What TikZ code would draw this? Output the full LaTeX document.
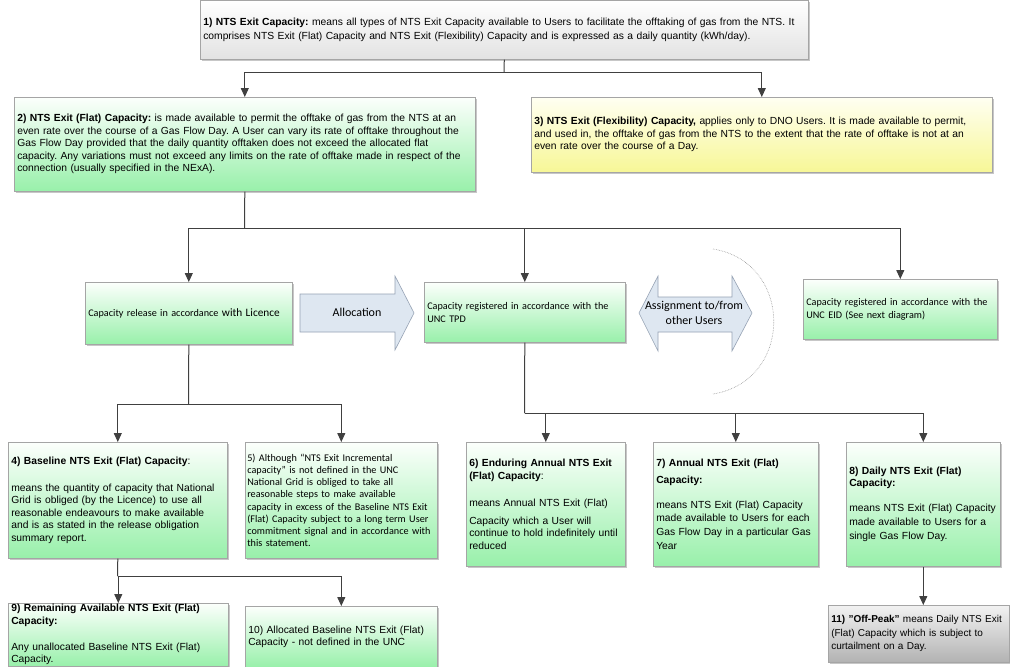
\documentclass[tikz,border=0pt]{standalone}
\usepackage{fontspec}
\setmainfont{Liberation Sans}
\newfontfamily\calfont{Carlito}
\usetikzlibrary{arrows.meta,shadows}
\frenchspacing
\definecolor{gbot}{RGB}{152,240,170}
\definecolor{gtop}{RGB}{252,255,252}
\definecolor{bord}{RGB}{165,165,165}
\definecolor{lncol}{RGB}{64,64,64}
\definecolor{ybot}{RGB}{247,247,150}
\definecolor{ytop}{RGB}{255,255,242}
\definecolor{graybot}{RGB}{226,226,226}
\definecolor{darkgraybot}{RGB}{178,178,178}
\definecolor{arrfill}{RGB}{222,231,241}
\definecolor{arrbord}{RGB}{150,162,180}
\tikzset{
  box/.style={draw=bord, line width=0.6pt, rectangle, anchor=north west,
    inner xsep=3pt, inner ysep=0pt, align=left,
    drop shadow={shadow xshift=1.5pt, shadow yshift=-1.5pt, opacity=0.22, fill=black},
    font=\frenchspacing\fontsize{10.3}{12.5}\selectfont},
  greenbox/.style={box, top color=gtop, bottom color=gbot},
  calbox/.style={greenbox, font=\frenchspacing\calfont\fontsize{10.2}{12.8}\selectfont},
  conn/.style={draw=lncol, line width=1pt},
  arr/.style={conn, -{Triangle[length=9pt,width=8pt]}},
  bigarrow/.style={draw=arrbord, line width=0.6pt, fill=arrfill},
  arrlabel/.style={align=center, font=\calfont\fontsize{12}{15.5}\selectfont, inner sep=0pt}
}
\begin{document}
\begin{tikzpicture}[x=1pt,y=-1pt]
\useasboundingbox[fill=white] (0,0) rectangle (1010,667);

% level 1
\node[box, top color=white, bottom color=graybot, minimum width=608pt, minimum height=59pt,
  text width=602pt, font=\frenchspacing\fontsize{10.3}{14}\selectfont] (b1) at (200,0)
  {\textbf{1) NTS Exit Capacity:} means all types of NTS Exit Capacity available to Users to facilitate the offtaking of gas from the NTS. It\\
   comprises NTS Exit (Flat) Capacity and NTS Exit (Flexibility) Capacity and is expressed as a daily quantity (kWh/day).};

% level 2
\node[greenbox, minimum width=461pt, minimum height=94pt, text width=455pt] (b2) at (14,97)
  {\textbf{2) NTS Exit (Flat) Capacity:} is made available to permit the offtake of gas from the NTS at an\\
   even rate over the course of a Gas Flow Day. A User can vary its rate of offtake throughout the\\
   Gas Flow Day provided that the daily quantity offtaken does not exceed the allocated flat\\
   capacity. Any variations must not exceed any limits on the rate of offtake made in respect of the\\
   connection (usually specified in the NExA).};

\node[box, top color=ytop, bottom color=ybot, minimum width=461pt, minimum height=75pt, text width=455pt] (b3) at (531,97)
  {\textbf{3) NTS Exit (Flexibility) Capacity,} applies only to DNO Users. It is made available to permit,\\
   and used in, the offtake of gas from the NTS to the extent that the rate of offtake is not at an\\
   even rate over the course of a Day.};

% level 3
\node[calbox, minimum width=207pt, minimum height=62pt, text width=201pt] (rel) at (85,282)
  {Capacity release in accordance {\fontsize{11.3}{12.8}\selectfont with Licence}};

\node[calbox, minimum width=201pt, minimum height=60pt, text width=195pt] (tpd) at (424,282)
  {Capacity registered in accordance with the\\ UNC TPD};

\node[calbox, minimum width=194pt, minimum height=60pt, text width=188pt] (eid) at (803,279)
  {Capacity registered in accordance with the\\ UNC EID (See next diagram)};

% big arrows
\path[bigarrow] (300,294) -- (395,294) -- (395,276) -- (414,313) -- (395,350) -- (395,332) -- (300,332) -- cycle;
\node[arrlabel] (alloc) at (357,312) {Allocation};

\path[bigarrow] (639,313) -- (658,276) -- (658,297) -- (732,297) -- (732,276) -- (752,313)
  -- (732,351) -- (732,332) -- (658,332) -- (658,351) -- cycle;
\node[arrlabel] (assign) at (694,313) {Assignment to/from\\ other Users};

\draw[densely dotted, draw=gray!85, line width=0.6pt] (713,249) .. controls (794,262) and (794,381) .. (713,394);

% level 4
\node[greenbox, minimum width=219pt, minimum height=116pt, text width=213pt] (b4) at (8,442)
  {\textbf{4) Baseline NTS Exit (Flat) Capacity}:\\[14.5pt]
   means the quantity of capacity that National\\
   Grid is obliged (by the Licence) to use all\\
   reasonable endeavours to make available\\
   and is as stated in the release obligation\\
   summary report.};

\node[calbox, minimum width=192pt, minimum height=116pt, text width=188pt, inner xsep=2pt, font=\frenchspacing\calfont\fontsize{10.2}{12.1}\selectfont] (b5) at (245,442)
  {5) Although “NTS Exit Incremental\\
   capacity” is not defined in the UNC\\
   National Grid is obliged to take all\\
   reasonable steps to make available\\
   capacity in excess of the Baseline NTS Exit\\
   (Flat) Capacity subject to a long term User\\
   commitment signal and in accordance with\\
   this statement.};

\node[greenbox, minimum width=159pt, minimum height=124pt, text width=153pt] (b6) at (466,442)
  {\textbf{6) Enduring Annual NTS Exit}\\
   \textbf{(Flat) Capacity}:\\[15pt]
   means Annual NTS Exit (Flat)\\[5pt]
   Capacity which a User will\\
   continue to hold indefinitely until\\
   reduced};

\node[greenbox, minimum width=165pt, minimum height=124pt, text width=159pt] (b7) at (653,442)
  {\textbf{7) Annual NTS Exit (Flat)}\\[4.5pt]
   \textbf{Capacity:}\\[12.5pt]
   means NTS Exit (Flat) Capacity\\
   made available to Users for each\\[1.5pt]
   Gas Flow Day in a particular Gas\\[1.5pt]
   Year};

\node[greenbox, minimum width=154pt, minimum height=124pt, text width=148pt] (b8) at (846,442)
  {\textbf{8) Daily NTS Exit (Flat)}\\
   \textbf{Capacity:}\\[12.5pt]
   means NTS Exit (Flat) Capacity\\[1.5pt]
   made available to Users for a\\[1.5pt]
   single Gas Flow Day.};

% level 5
\node[greenbox, minimum width=220pt, minimum height=63pt, text width=214pt] (b9) at (8,603)
  {\textbf{9) Remaining Available NTS Exit (Flat)}\\
   \textbf{Capacity:}\\[13.5pt]
   Any unallocated Baseline NTS Exit (Flat)\\
   Capacity.};

\node[greenbox, minimum width=192pt, minimum height=61pt, text width=186pt] (b10) at (245,606)
  {10) Allocated Baseline NTS Exit (Flat)\\
   Capacity - not defined in the UNC};

\node[box, top color=white!95!black, bottom color=darkgraybot, minimum width=181pt, minimum height=57pt,
  text width=175pt, font=\frenchspacing\fontsize{10}{13.5}\selectfont] (b11) at (828,605)
  {\textbf{11) "Off-Peak"} means Daily NTS Exit\\
   (Flat) Capacity which is subject to\\
   curtailment on a Day.};

% connectors
\coordinate (j1) at (504,72);
\draw[conn] (b1.south) -- (j1);
\draw[arr] (j1) -| (b2.north);
\draw[arr] (j1) -| (b3.north);

\coordinate (j2) at (244.5,228);
\draw[conn] (b2.south) -- (j2);
\draw[arr] (j2) -| (rel.north);
\draw[arr] (j2) -| (tpd.north);
\draw[arr] (j2) -| (eid.north);

\coordinate (j3) at (188.5,404);
\draw[conn] (rel.south) -- (j3);
\draw[arr] (j3) -| (b4.north);
\draw[arr] (j3) -| (b5.north);

\coordinate (j4) at (524.5,413);
\draw[conn] (tpd.south) -- (j4);
\draw[arr] (j4) -| (b6.north);
\draw[arr] (j4) -| (b7.north);
\draw[arr] (j4) -| (b8.north);

\coordinate (j5) at (117.5,576);
\draw[conn] (b4.south) -- (j5);
\draw[arr] (j5) -| (b9.north);
\draw[arr] (j5) -| (b10.north);

\draw[arr] (b8.south) -- (b11.north -| b8.south);
\end{tikzpicture}
\end{document}
